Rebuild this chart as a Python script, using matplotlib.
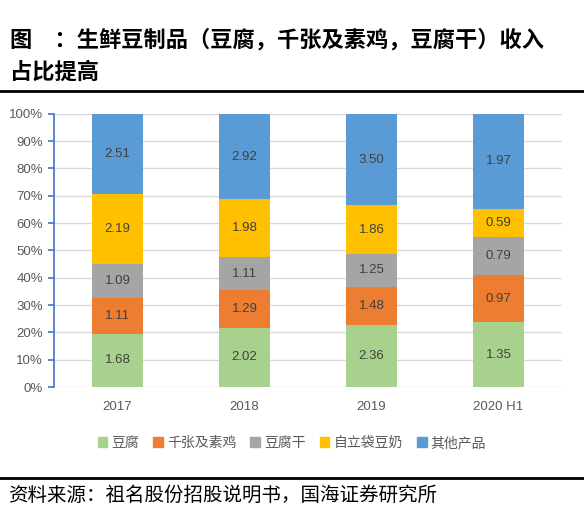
import matplotlib
matplotlib.use("Agg")
import matplotlib.pyplot as plt
import numpy as np
from matplotlib.lines import Line2D
from matplotlib.ticker import PercentFormatter

plt.rcParams['font.family'] = ['Noto Sans CJK SC', 'DejaVu Sans']

categories = ["2017", "2018", "2019", "2020 H1"]
series_names = ["豆腐", "千张及素鸡", "豆腐干", "自立袋豆奶", "其他产品"]
tofu = [1.68, 2.02, 2.36, 1.35]
qianzhang = [1.11, 1.29, 1.48, 0.97]
doufugan = [1.09, 1.11, 1.25, 0.79]
dounai = [2.19, 1.98, 1.86, 0.59]
others = [2.51, 2.92, 3.50, 1.97]
colors = ["#A9D18E", "#ED7D31", "#A5A5A5", "#FFC000", "#5B9BD5"]

data = np.array([tofu, qianzhang, doufugan, dounai, others])
totals = data.sum(axis=0)
shares = data / totals

fig = plt.figure(figsize=(5.84, 5.08), dpi=100)
ax = fig.add_axes([0.0925, 0.238, 0.87, 0.538])

x = np.arange(len(categories))
bottom = np.zeros(len(categories))
for i in range(len(series_names)):
    ax.bar(x, shares[i], bottom=bottom, width=0.4, color=colors[i],
           label=series_names[i], zorder=3)
    for j in range(len(categories)):
        ax.text(x[j], bottom[j] + shares[i][j] / 2, f"{data[i][j]:.2f}",
                ha="center", va="center", fontsize=9.5, color="#404040",
                family=["Liberation Sans", "DejaVu Sans"], zorder=4)
    bottom += shares[i]

ax.set_xlim(-0.5, len(categories) - 0.5)
ax.set_ylim(0, 1)
ax.set_yticks(np.arange(0, 1.01, 0.1))
ax.yaxis.set_major_formatter(PercentFormatter(1.0, decimals=0))
ax.set_xticks(x)
ax.set_xticklabels(categories)
ax.grid(axis="y", color="#D9D9D9", linewidth=1, zorder=0)
for s in ["top", "right", "bottom"]:
    ax.spines[s].set_visible(False)
ax.spines["left"].set_color("#4472C4")
ax.spines["left"].set_linewidth(1.2)
ax.tick_params(axis="y", colors="#4472C4", labelcolor="#595959", labelsize=9.5,
               length=4, width=1.2, direction="out", pad=4)
ax.tick_params(axis="x", length=0, labelcolor="#595959", labelsize=9.5, pad=10)
for lbl in ax.get_yticklabels() + ax.get_xticklabels():
    lbl.set_family(["Liberation Sans", "DejaVu Sans"])

leg = fig.legend(handles=[plt.Rectangle((0, 0), 1, 1, color=c) for c in colors],
                 labels=series_names, loc="center", bbox_to_anchor=(0.5, 1 - 443 / 508),
                 ncol=5, frameon=False, fontsize=10, handlelength=0.7,
                 handleheight=0.7, handletextpad=0.3, columnspacing=1.0)
for t in leg.get_texts():
    t.set_color("#595959")

fig.text(0.017, 1 - 40 / 508, "图　：生鲜豆制品（豆腐，千张及素鸡，豆腐干）收入",
         fontsize=16, fontweight="bold", ha="left", va="center")
fig.text(0.017, 1 - 72 / 508, "占比提高", fontsize=16, fontweight="bold",
         ha="left", va="center")

fig.add_artist(Line2D([0, 1], [1 - 91 / 508, 1 - 91 / 508], color="black",
                      linewidth=2, transform=fig.transFigure))
fig.add_artist(Line2D([0, 1], [1 - 478 / 508, 1 - 478 / 508], color="black",
                      linewidth=2, transform=fig.transFigure))
fig.text(0.014, 1 - 495 / 508, "资料来源：祖名股份招股说明书，国海证券研究所",
         fontsize=14, ha="left", va="center", color="black")

fig.savefig("out.png", dpi=100)
